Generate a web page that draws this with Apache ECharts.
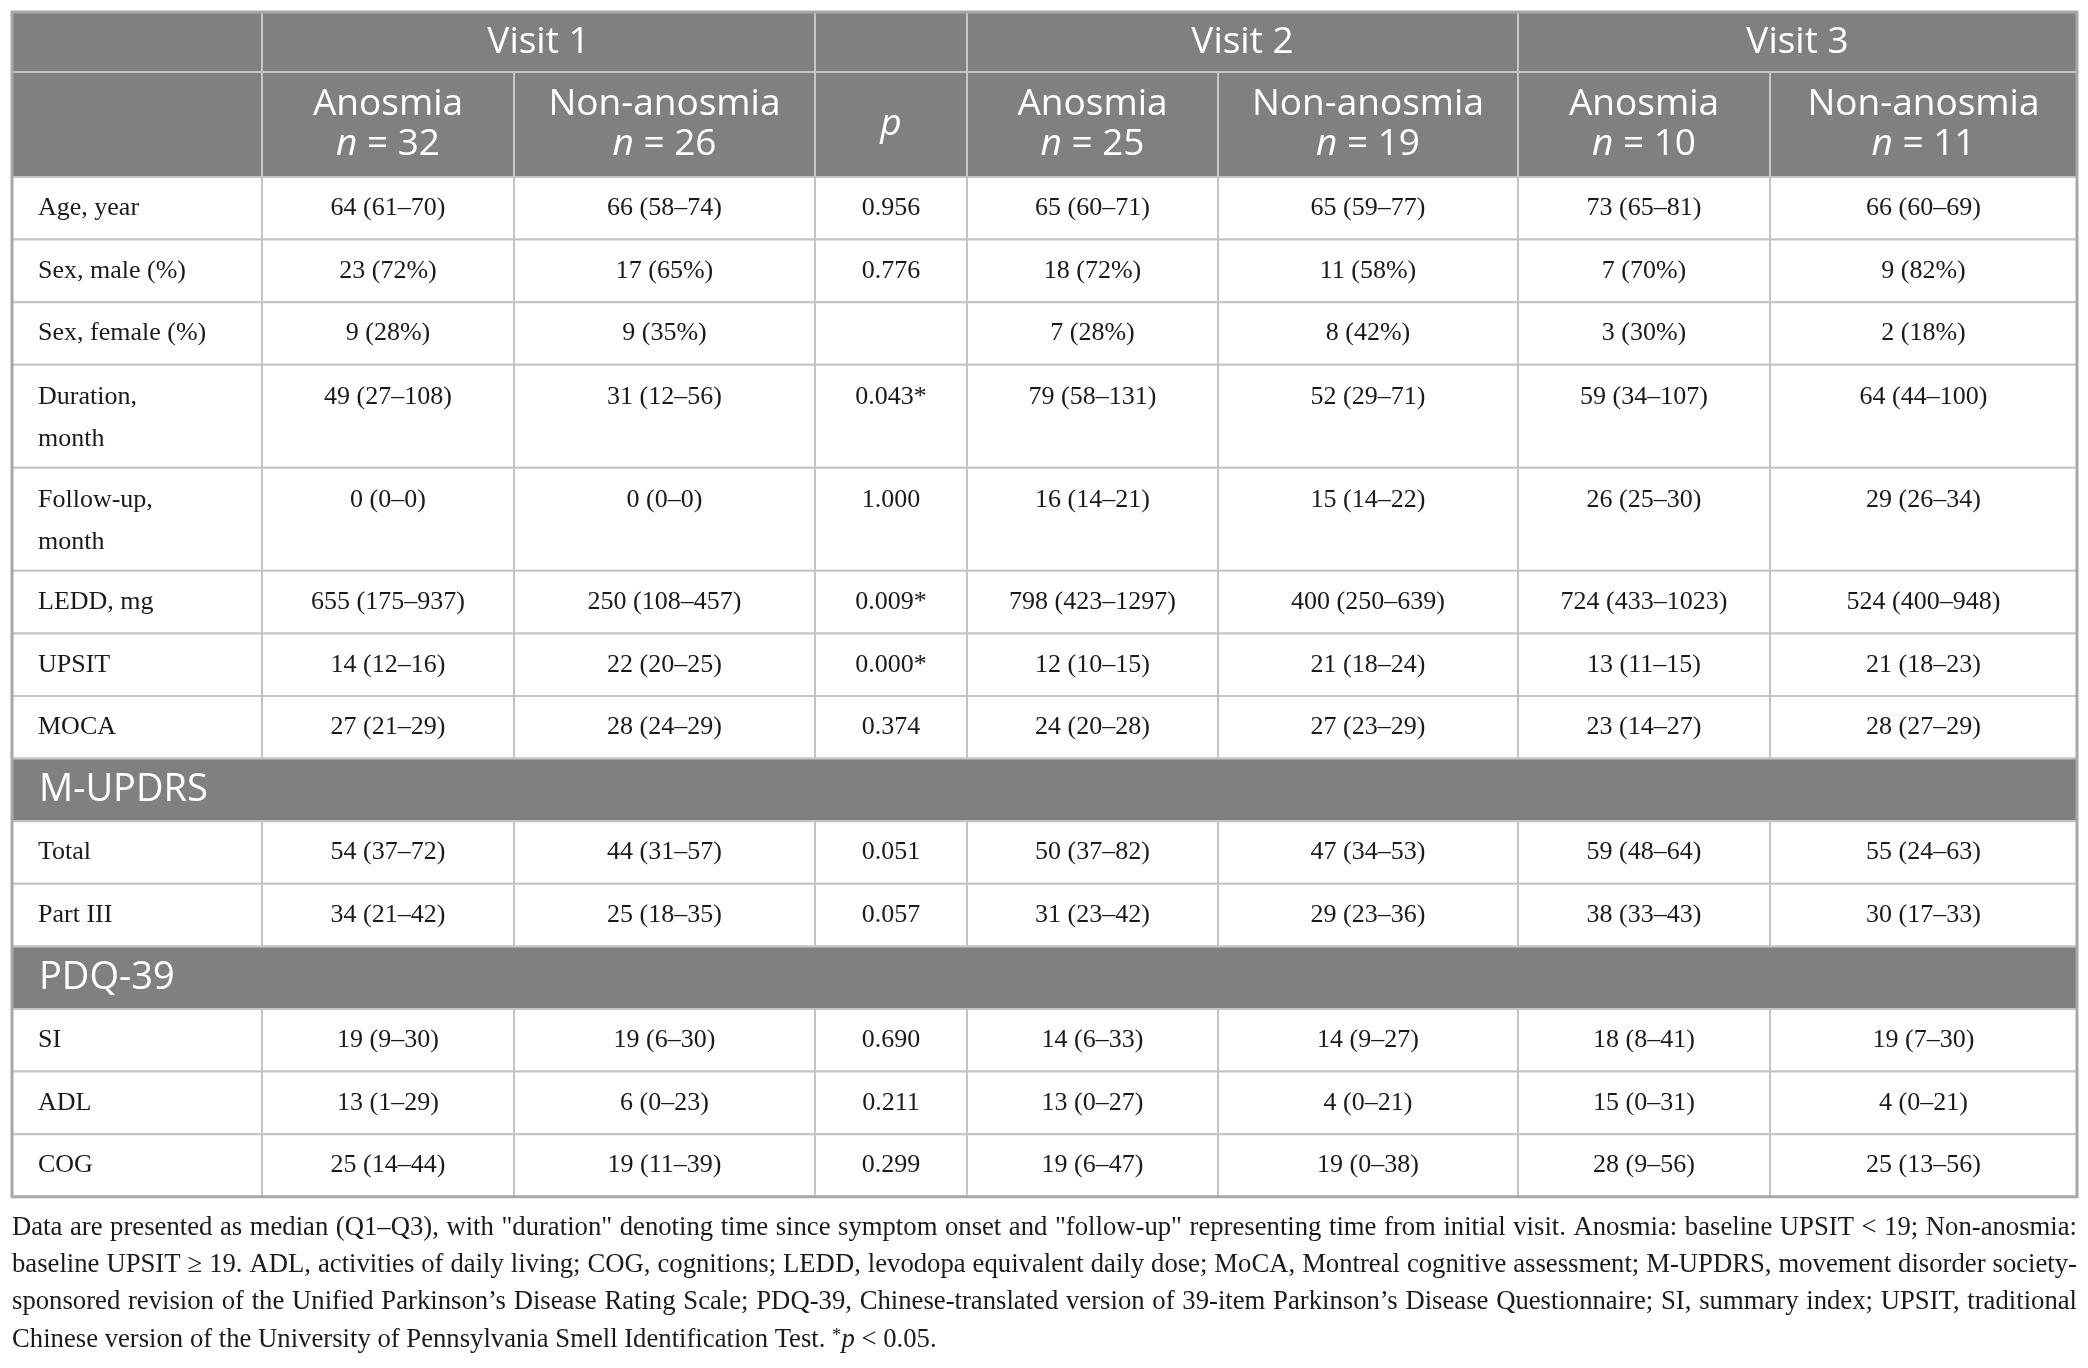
<!DOCTYPE html>
<html>
<head>
<meta charset="utf-8">
<title>Anosmia vs non-anosmia by visit</title>
<script src="https://cdn.jsdelivr.net/npm/echarts@6/dist/echarts.min.js"></script>
<style>
  html, body { margin: 0; padding: 0; background: #fff; }
  #main { width: 2088px; height: 1368px; }
</style>
</head>
<body>
<div id="main"></div>
<script>
// ---- data ----
var visits = ['Visit 1', 'Visit 2', 'Visit 3'];
var groupNames = ['Anosmia', 'Non-anosmia'];
var groupN = [32, 26, 25, 19, 10, 11];

var rowLabels = ['Age, year', 'Sex, male (%)', 'Sex, female (%)', 'Duration,\nmonth', 'Follow-up,\nmonth',
  'LEDD, mg', 'UPSIT', 'MOCA', 'M-UPDRS', 'Total', 'Part III', 'PDQ-39', 'SI', 'ADL', 'COG'];
var sectionNames = ['M-UPDRS', 'PDQ-39'];

var v1Anosmia = ['64 (61–70)', '23 (72%)', '9 (28%)', '49 (27–108)', '0 (0–0)', '655 (175–937)', '14 (12–16)', '27 (21–29)',
  null, '54 (37–72)', '34 (21–42)', null, '19 (9–30)', '13 (1–29)', '25 (14–44)'];
var v1NonAnosmia = ['66 (58–74)', '17 (65%)', '9 (35%)', '31 (12–56)', '0 (0–0)', '250 (108–457)', '22 (20–25)', '28 (24–29)',
  null, '44 (31–57)', '25 (18–35)', null, '19 (6–30)', '6 (0–23)', '19 (11–39)'];
var pValues = ['0.956', '0.776', '', '0.043*', '1.000', '0.009*', '0.000*', '0.374',
  null, '0.051', '0.057', null, '0.690', '0.211', '0.299'];
var v2Anosmia = ['65 (60–71)', '18 (72%)', '7 (28%)', '79 (58–131)', '16 (14–21)', '798 (423–1297)', '12 (10–15)', '24 (20–28)',
  null, '50 (37–82)', '31 (23–42)', null, '14 (6–33)', '13 (0–27)', '19 (6–47)'];
var v2NonAnosmia = ['65 (59–77)', '11 (58%)', '8 (42%)', '52 (29–71)', '15 (14–22)', '400 (250–639)', '21 (18–24)', '27 (23–29)',
  null, '47 (34–53)', '29 (23–36)', null, '14 (9–27)', '4 (0–21)', '19 (0–38)'];
var v3Anosmia = ['73 (65–81)', '7 (70%)', '3 (30%)', '59 (34–107)', '26 (25–30)', '724 (433–1023)', '13 (11–15)', '23 (14–27)',
  null, '59 (48–64)', '38 (33–43)', null, '18 (8–41)', '15 (0–31)', '28 (9–56)'];
var v3NonAnosmia = ['66 (60–69)', '9 (82%)', '2 (18%)', '64 (44–100)', '29 (26–34)', '524 (400–948)', '21 (18–23)', '28 (27–29)',
  null, '55 (24–63)', '30 (17–33)', null, '19 (7–30)', '4 (0–21)', '25 (13–56)'];

var footLines = [
  'Data are presented as median (Q1–Q3), with "duration" denoting time since symptom onset and "follow-up" representing time from initial visit. Anosmia: baseline UPSIT < 19; Non-anosmia:',
  'baseline UPSIT ≥ 19. ADL, activities of daily living; COG, cognitions; LEDD, levodopa equivalent daily dose; MoCA, Montreal cognitive assessment; M-UPDRS, movement disorder society-',
  'sponsored revision of the Unified Parkinson’s Disease Rating Scale; PDQ-39, Chinese-translated version of 39-item Parkinson’s Disease Questionnaire; SI, summary index; UPSIT, traditional'
];
var footLast = 'Chinese version of the University of Pennsylvania Smell Identification Test. {s|*}{i|p} < 0.05.';

// ---- layout ----
var colEdges = [0, 250, 502, 803, 955, 1206, 1506, 1758, 2065];
var headHeights = [60, 105];
var rowH = 62.6, tallH = 103;
var sansFont = '"Open Sans", "Noto Sans", sans-serif';
var serifFont = '"Liberation Serif", "Times New Roman", serif';
var headGray = '#808080';
var headSize = 37, sectionSize = 38, bodySize = 26;

var bodyCols = [v1Anosmia, v1NonAnosmia, pValues, v2Anosmia, v2NonAnosmia, v3Anosmia, v3NonAnosmia];

// build cells
var cells = [];
function addCell(c0, c1, y0, y1, kind, text, tall) {
  cells.push({ x0: colEdges[c0], x1: colEdges[c1], y0: y0, y1: y1, kind: kind, text: text, tall: tall });
}
var y = 0;
// header row 1
addCell(0, 1, y, y + headHeights[0], 'head', '');
addCell(1, 3, y, y + headHeights[0], 'head', visits[0]);
addCell(3, 4, y, y + headHeights[0], 'head', '');
addCell(4, 6, y, y + headHeights[0], 'head', visits[1]);
addCell(6, 8, y, y + headHeights[0], 'head', visits[2]);
y += headHeights[0];
// header row 2
addCell(0, 1, y, y + headHeights[1], 'head', '');
var gi = 0;
for (var c = 1; c < 8; c++) {
  if (c === 3) {
    addCell(c, c + 1, y, y + headHeights[1], 'head', '{i|p}');
  } else {
    addCell(c, c + 1, y, y + headHeights[1], 'head', groupNames[gi % 2] + '\n{i|n} = ' + groupN[gi]);
    gi++;
  }
}
y += headHeights[1];
// body rows
rowLabels.forEach(function (label, r) {
  if (sectionNames.indexOf(label) >= 0) {
    addCell(0, 8, y, y + rowH, 'section', label);
    y += rowH;
    return;
  }
  var tall = label.indexOf('\n') >= 0;
  var h = tall ? tallH : rowH;
  addCell(0, 1, y, y + h, 'label', label, tall);
  bodyCols.forEach(function (col, k) {
    addCell(k + 1, k + 2, y, y + h, 'value', col[r], tall);
  });
  y += h;
});
var tableH = y;
var tableW = colEdges[colEdges.length - 1];
// outer frame
cells.push({ x0: 0, x1: tableW, y0: 0, y1: tableH, kind: 'frame', text: '' });

function renderCell(params, api) {
  var c = cells[params.dataIndex];
  var p0 = api.coord([c.x0, c.y0]);
  var p1 = api.coord([c.x1, c.y1]);
  var x = p0[0], top = p0[1], w = p1[0] - p0[0], h = p1[1] - p0[1];
  if (c.kind === 'frame') {
    return { type: 'rect', shape: { x: x, y: top, width: w, height: h },
      style: { fill: 'none', stroke: '#a8a8a8', lineWidth: 3 } };
  }
  var dark = c.kind === 'head' || c.kind === 'section';
  var children = [{
    type: 'rect',
    shape: { x: x, y: top, width: w, height: h },
    style: { fill: dark ? headGray : '#fff', stroke: dark ? '#c6c6c6' : '#c4c4c4', lineWidth: 2 }
  }];
  if (c.text) {
    var st;
    if (dark) {
      var fs = c.kind === 'section' ? sectionSize : headSize;
      st = {
        text: c.text, fill: '#fff', fontFamily: sansFont, fontSize: fs, lineHeight: 40,
        x: c.kind === 'section' ? x + 27 : x + w / 2, y: top + h / 2,
        align: c.kind === 'section' ? 'left' : 'center', verticalAlign: 'middle',
        rich: { i: { fontStyle: 'italic', fontFamily: sansFont, fontSize: fs, lineHeight: 40, fill: '#fff' } }
      };
    } else {
      st = {
        text: c.text, fill: '#1a1a1a', fontFamily: serifFont, fontSize: bodySize, lineHeight: 42,
        x: c.kind === 'label' ? x + 26 : x + w / 2,
        y: c.tall ? top + 11 : top + h / 2,
        align: c.kind === 'label' ? 'left' : 'center',
        verticalAlign: c.tall ? 'top' : 'middle'
      };
    }
    children.push({ type: 'text', style: st });
  }
  return { type: 'group', children: children };
}

// ---- footnote (justified like the journal page) ----
var ctx = document.createElement('canvas').getContext('2d');
function measure(s, size) {
  ctx.font = size + 'px ' + serifFont;
  return ctx.measureText(s).width;
}
var tableLeft = 12, tableTop = 12;
var footSize = 27;
var widest = Math.max.apply(null, footLines.map(function (l) { return measure(l, footSize); }));
if (widest > tableW) footSize = Math.floor(footSize * tableW / widest * 10) / 10;
var footY = [1228, 1265, 1302, 1340];
var graphics = [];
footLines.forEach(function (line, li) {
  var words = line.split(' ');
  var widths = words.map(function (wd) { return measure(wd, footSize); });
  var sum = widths.reduce(function (a, b) { return a + b; }, 0);
  var gap = (tableW - sum) / (words.length - 1);
  var xx = tableLeft;
  words.forEach(function (wd, i) {
    graphics.push({
      type: 'text', x: xx, y: footY[li],
      style: { text: wd, fill: '#1a1a1a', fontFamily: serifFont, fontSize: footSize, align: 'left', verticalAlign: 'middle' }
    });
    xx += widths[i] + gap;
  });
});
graphics.push({
  type: 'text', x: tableLeft, y: footY[3],
  style: {
    text: footLast, fill: '#1a1a1a', fontFamily: serifFont, fontSize: footSize, align: 'left', verticalAlign: 'middle',
    rich: {
      s: { fontFamily: serifFont, fontSize: footSize * 0.7, fill: '#1a1a1a', verticalAlign: 'top' },
      i: { fontFamily: serifFont, fontSize: footSize, fontStyle: 'italic', fill: '#1a1a1a' }
    }
  }
});

var chart = echarts.init(document.getElementById('main'));
var option = {
  backgroundColor: '#fff',
  animation: false,
  grid: { left: tableLeft, top: tableTop, width: tableW, height: tableH },
  xAxis: { type: 'value', min: 0, max: tableW, show: false },
  yAxis: { type: 'value', min: 0, max: tableH, inverse: true, show: false },
  series: [{
    type: 'custom',
    renderItem: renderCell,
    encode: { x: [0, 2], y: [1, 3] },
    data: cells.map(function (c) { return [c.x0, c.y0, c.x1, c.y1]; })
  }],
  graphic: graphics
};
chart.setOption(option);
</script>
</body>
</html>
